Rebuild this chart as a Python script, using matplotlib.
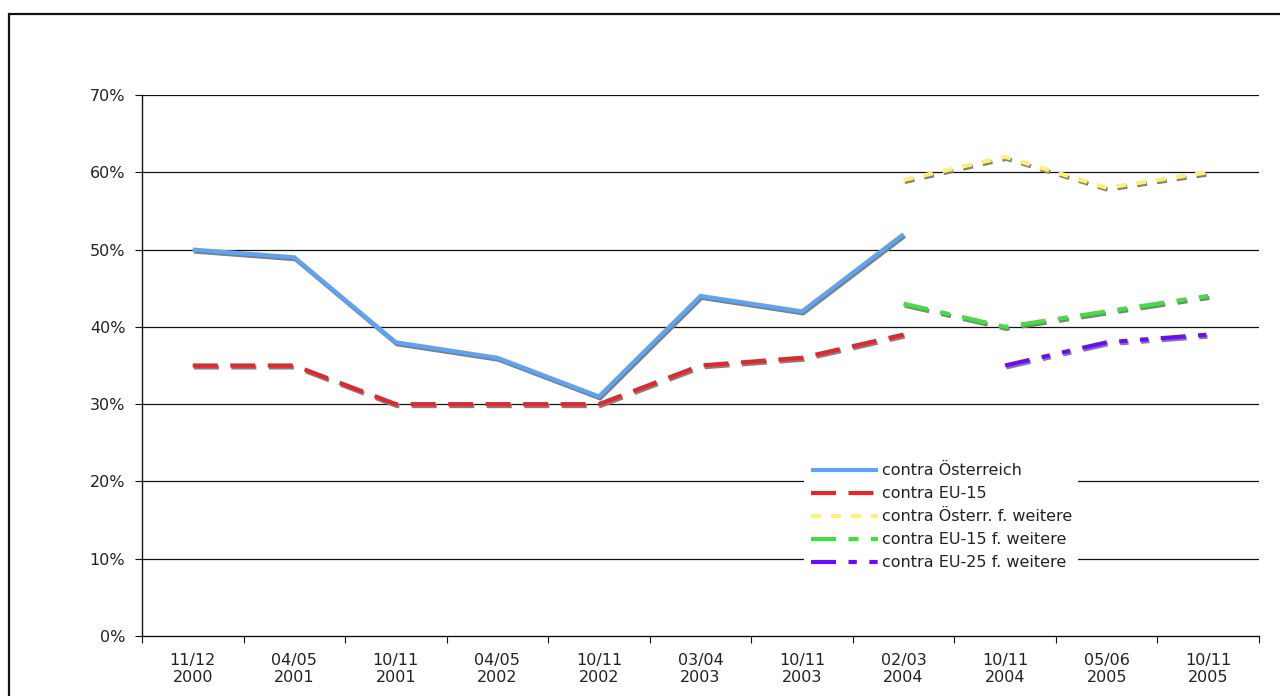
import numpy as np
import matplotlib
matplotlib.use("Agg")
import matplotlib.pyplot as plt
import matplotlib.patheffects as pe
from matplotlib.patches import Rectangle
from matplotlib.lines import Line2D
from matplotlib.ticker import FixedLocator, NullFormatter

plt.rcParams['font.family'] = ['DejaVu Sans']

categories = ["11/12\n2000", "04/05\n2001", "10/11\n2001", "04/05\n2002", "10/11\n2002",
              "03/04\n2003", "10/11\n2003", "02/03\n2004", "10/11\n2004", "05/06\n2005",
              "10/11\n2005"]

contra_oesterreich = [0.50, 0.49, 0.38, 0.36, 0.31, 0.44, 0.42, 0.52, None, None, None]
contra_eu15 = [0.35, 0.35, 0.30, 0.30, 0.30, 0.35, 0.36, 0.39, None, None, None]
contra_oesterr_weitere = [None, None, None, None, None, None, None, 0.59, 0.62, 0.58, 0.60]
contra_eu15_weitere = [None, None, None, None, None, None, None, 0.43, 0.40, 0.42, 0.44]
contra_eu25_weitere = [None, None, None, None, None, None, None, None, 0.35, 0.38, 0.39]

series = [
    ("contra Österreich", contra_oesterreich, "#5FA4F2", None),
    ("contra EU-15", contra_eu15, "#E0282E", (6, 3)),
    ("contra Österr. f. weitere", contra_oesterr_weitere, "#FFF07A", (2.4, 2.4)),
    ("contra EU-15 f. weitere", contra_eu15_weitere, "#44DD44", (6, 3, 2.4, 3)),
    ("contra EU-25 f. weitere", contra_eu25_weitere, "#6A0CFF", (6, 3, 2, 3, 2, 3)),
]

FS = 11.5

fig = plt.figure(figsize=(12.8, 6.96), dpi=100)
ax = fig.add_axes([142 / 1280, 1 - 636 / 696, (1259 - 142) / 1280, (636 - 95) / 696])

x = np.arange(len(categories))
shadow = [pe.SimpleLineShadow(offset=(0.8, -1.4), shadow_color="#7f7f7f", alpha=1.0), pe.Normal()]

handles = []
for label, vals, color, dashes in series:
    y = np.array([np.nan if v is None else v for v in vals], dtype=float)
    line, = ax.plot(x, y, color=color, lw=3.0, solid_joinstyle="miter",
                    dash_capstyle="butt", solid_capstyle="butt")
    h = Line2D([], [], color=color, lw=3.0, label=label,
               dash_capstyle="butt", solid_capstyle="butt")
    if dashes is not None:
        line.set_dashes(dashes)
        h.set_dashes(dashes)
    line.set_path_effects(shadow)
    handles.append(h)

ax.set_ylim(0, 0.7)
ax.set_xlim(-0.5, len(categories) - 0.5)

yt = np.arange(0, 0.71, 0.1)
ax.set_yticks(yt)
ax.set_yticklabels([f"{int(round(v * 100))}%" for v in yt])
for v in yt[1:]:
    ax.axhline(v, color="#111111", lw=0.9, zorder=0.5)

ax.xaxis.set_major_locator(FixedLocator(np.arange(-0.5, len(categories), 1.0)))
ax.xaxis.set_major_formatter(NullFormatter())
ax.xaxis.set_minor_locator(FixedLocator(x))
ax.set_xticklabels(categories, minor=True)
ax.tick_params(axis="x", which="minor", length=0, pad=12, labelsize=FS, colors="#222222")
ax.tick_params(axis="x", which="major", length=5, direction="out", color="#111111")
ax.tick_params(axis="y", length=5, direction="out", pad=7, labelsize=FS, colors="#222222")
ax.tick_params(axis="y", color="#111111")

for s in ["top", "right"]:
    ax.spines[s].set_visible(False)
for s in ["left", "bottom"]:
    ax.spines[s].set_color("#111111")
    ax.spines[s].set_linewidth(1.0)

leg = ax.legend(handles=handles, loc="upper left", bbox_to_anchor=(0.593, 0.331), frameon=True,
                fontsize=FS, handlelength=4.2, handletextpad=0.25, labelspacing=0.5,
                borderpad=0.4, borderaxespad=0, fancybox=False)
leg.get_frame().set_facecolor("white")
leg.get_frame().set_edgecolor("none")
leg.get_frame().set_alpha(1.0)
for t in leg.get_texts():
    t.set_color("#222222")

# outer chart-area border
fig.add_artist(Rectangle((9 / 1280, -0.1), 1.2, 1 - 14 / 696 + 0.1,
                         transform=fig.transFigure, fill=False, edgecolor="#111111", lw=1.6))

fig.savefig("out.png", dpi=100)
